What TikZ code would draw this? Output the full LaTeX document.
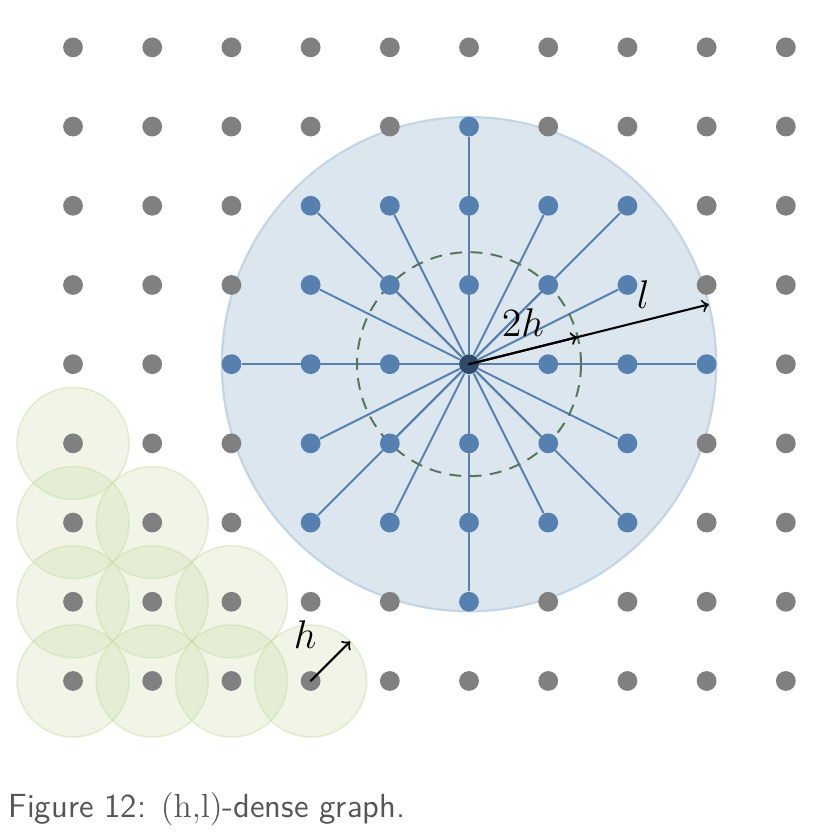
\documentclass[tikz,border=0pt]{standalone}
\usetikzlibrary{backgrounds}
\definecolor{dotgray}{RGB}{128,128,128}
\definecolor{nodeblue}{RGB}{85,128,176}
\definecolor{hubblue}{RGB}{46,74,104}
\definecolor{discblue}{RGB}{220,230,239}
\definecolor{rimblue}{RGB}{196,213,230}
\definecolor{ballgreen}{RGB}{196,216,158}
\definecolor{dashgreen}{RGB}{82,118,88}
\definecolor{captiongray}{RGB}{85,85,85}
\begin{document}
\begin{tikzpicture}[line join=round, line cap=round,
		dot/.style={circle,fill=dotgray,inner sep=0pt,minimum size=0.25cm},
		hit/.style={dot,fill=nodeblue},
		hub/.style={dot,fill=hubblue},
		ball/.style={fill=ballgreen,fill opacity=0.25,draw=ballgreen,draw opacity=0.4,line width=0.6pt},
		spoke/.style={nodeblue,line width=0.7pt},
		lbl/.style={font=\fontsize{14.4}{16}\selectfont}]
		\useasboundingbox (-0.922,-1.932) rectangle (9.356,8.598);
		\def\cx{5} \def\cy{4} \def\rl{3.12} \def\rh{0.707}
		% grid of points
		\foreach \i in {0,...,9}
			\foreach \j in {0,...,8}{
				\pgfmathtruncatemacro\dd{(\i-\cx)^2+(\j-\cy)^2}
				\ifnum\dd=0 \node[hub] (p-\i-\j) at (\i,\j) {};
				\else\ifnum\dd>9 \node[dot] (p-\i-\j) at (\i,\j) {};
				\else \node[hit] (p-\i-\j) at (\i,\j) {};
				\fi\fi
			}
		\begin{scope}[on background layer]
			\filldraw[fill=discblue,draw=rimblue,line width=0.8pt] (p-5-4.center) circle (\rl);
			\foreach \i/\j in {0/3,0/2,1/2,0/1,1/1,2/1,0/0,1/0,2/0,3/0}
				\filldraw[ball] (p-\i-\j.center) circle (\rh);
			\foreach \i in {2,...,8}
				\foreach \j in {1,...,7}{
					\pgfmathtruncatemacro\dd{(\i-\cx)^2+(\j-\cy)^2}
					\ifnum\dd>0 \ifnum\dd<10 \draw[spoke] (p-5-4) -- (p-\i-\j); \fi\fi
				}
			\draw[dashgreen,line width=0.7pt,dash pattern=on 4.3pt off 3pt] (p-5-4.center) circle ({2*\rh});
		\end{scope}
		% radii
		\path (p-5-4.center) ++(14:\rl) coordinate (lend);
		\path (p-5-4.center) ++(14:2*\rh) coordinate (hhend);
		\path (p-3-0.center) ++(45:\rh) coordinate (hend);
		\draw[->,line width=0.75pt] (p-5-4.center) -- (lend);
		\draw[->,line width=0.75pt] (p-5-4.center) -- (hhend);
		\draw[->,line width=0.75pt] (p-3-0.center) -- (hend);
		\node[lbl] (lab-hh) at (5.68,4.52) {$2h$};
		\node[lbl] (lab-l) at (7.2,4.88) {$l$};
		\node[lbl] (lab-h) at (2.93,0.58) {$h$};
		\node[anchor=base west,inner sep=0pt,text=captiongray,font=\sffamily\fontsize{12}{14}\selectfont] (cap) at (-0.82,-1.726) {Figure 12: \textrm{(h,l)}-dense graph.};
	\end{tikzpicture}
\end{document}
